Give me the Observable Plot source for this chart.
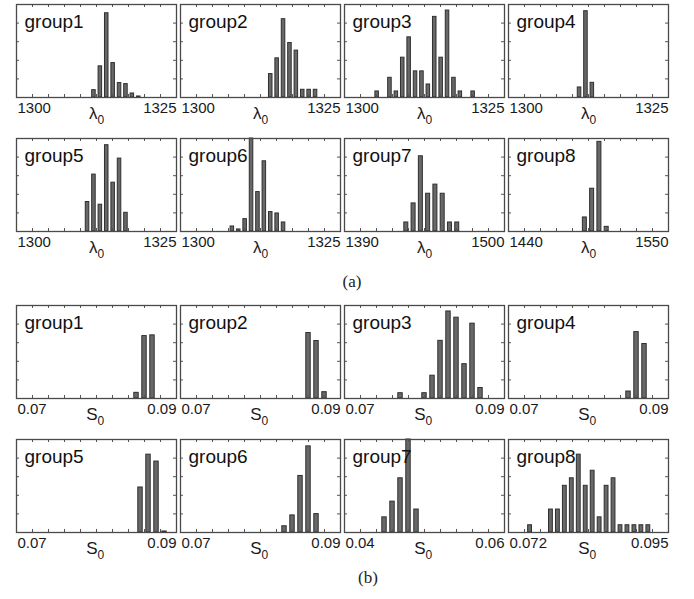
<!DOCTYPE html>
<html>
<head>
<meta charset="utf-8">
<script src="https://cdn.jsdelivr.net/npm/d3@7"></script>
<script src="https://cdn.jsdelivr.net/npm/@observablehq/plot@0.6"></script>
<style>
  body { margin: 0; background: #fff; }
  #fig { position: relative; width: 694px; height: 599px; overflow: hidden; background: #fff; }
  .panel { position: absolute; }
  .cap { position: absolute; font-family: "Liberation Serif", "Times New Roman", serif; font-size: 17px; line-height: 1; color: #222; transform: translateX(-50%); }
</style>
</head>
<body>
<div id="fig"></div>
<script>
// ---------- data ----------
const groups = ["group1", "group2", "group3", "group4", "group5", "group6", "group7", "group8"];

// (a) lambda_0 histograms
const lamDomains = [[1300, 1325], [1300, 1325], [1300, 1325], [1300, 1325], [1300, 1325], [1300, 1325], [1390, 1500], [1440, 1550]];
const lamTickLabels = [["1300", "1325"], ["1300", "1325"], ["1300", "1325"], ["1300", "1325"], ["1300", "1325"], ["1300", "1325"], ["1390", "1500"], ["1440", "1550"]];
const lamBinWidth = [1, 1, 1, 1, 1, 1, 5, 5];
const lamCenters = [
  [1312.1, 1313.1, 1314.1, 1315.1, 1316.1, 1317.1, 1318.1, 1319.1],
  [1314.1, 1315.1, 1316.1, 1317.1, 1318.1, 1319.1, 1320.1, 1321.1],
  [1305.1, 1307.1, 1308.1, 1309.1, 1310.1, 1311.1, 1312.1, 1313.1, 1314.1, 1315.1, 1316.1, 1317.1, 1318.1, 1320.1],
  [1311.1, 1312.1, 1313.1],
  [1311.1, 1312.1, 1313.1, 1314.1, 1315.1, 1316.1, 1317.1],
  [1308.1, 1309.1, 1310.1, 1311.1, 1312.1, 1313.1, 1314.1, 1315.1, 1316.1],
  [1432.5, 1437.5, 1442.5, 1447.5, 1452.5, 1457.5, 1462.5, 1467.5],
  [1492.5, 1497.5, 1502.5, 1507.5]
];
// relative frequency (% of panel height)
const lamFreq = [
  [7.9, 33.5, 90.6, 37.0, 15.5, 14.4, 4.3, 1.1],
  [25.2, 42.1, 84.2, 58.6, 50.4, 8.3, 8.3, 8.3],
  [6.5, 21.2, 6.5, 42.8, 64.7, 28.1, 28.1, 14.0, 86.7, 42.8, 93.5, 21.2, 6.5, 6.5],
  [10.8, 92.8, 15.8],
  [31.7, 61.2, 28.8, 92.8, 52.5, 78.4, 20.1],
  [5.4, 2.2, 13.3, 100, 42.4, 75.5, 20.9, 19.4, 9.7],
  [9.7, 30.2, 80.9, 40.6, 50.4, 40.6, 9.7, 9.7],
  [15.1, 46.0, 96.4, 5.0]
];

// (b) S_0 histograms
const sDomains = [[0.07, 0.09], [0.07, 0.09], [0.07, 0.09], [0.07, 0.09], [0.07, 0.09], [0.07, 0.09], [0.04, 0.06], [0.072, 0.095]];
const sTickLabels = [["0.07", "0.09"], ["0.07", "0.09"], ["0.07", "0.09"], ["0.07", "0.09"], ["0.07", "0.09"], ["0.07", "0.09"], ["0.04", "0.06"], ["0.072", "0.095"]];
const sBinWidth = [0.001, 0.001, 0.001, 0.001, 0.001, 0.001, 0.001, 0.001];
const sCenters = [
  [0.085, 0.086, 0.087],
  [0.086, 0.087, 0.088],
  [0.077, 0.080, 0.081, 0.082, 0.083, 0.084, 0.085, 0.086, 0.087],
  [0.085, 0.086, 0.087],
  [0.0855, 0.0865, 0.0875, 0.0885],
  [0.083, 0.084, 0.085, 0.086, 0.087],
  [0.045, 0.046, 0.047, 0.048, 0.049],
  [0.0751, 0.0781, 0.0791, 0.0801, 0.0811, 0.0821, 0.0831, 0.0841, 0.0851, 0.0861, 0.0871, 0.0881, 0.0891, 0.0901, 0.0911, 0.0921]
];
const sFreq = [
  [6.1, 67.1, 67.9],
  [70.4, 61.8, 6.8],
  [5.7, 5.7, 24.5, 62.0, 93.6, 86.9, 36.9, 80.5, 11.3],
  [7.5, 71.4, 58.6],
  [48.4, 83.7, 76.3, 1.1],
  [6.7, 18.4, 60.8, 92.6, 19.8],
  [16.3, 33.2, 58.3, 100, 24.7],
  [7.8, 24.7, 24.7, 50.2, 58.3, 83.7, 50.2, 66.4, 16.3, 50.2, 58.3, 7.8, 7.8, 7.8, 7.8, 7.8]
];
const yTicks = [20, 40, 60, 80];
const captions = ["(a)", "(b)"];

// ---------- layout ----------
const FW = 160, FH = 93;
const ML = 4, MR = 4, MT = 4, MB = 32;
const colLefts = [16, 180, 344, 508];
const rowTops = [4, 138, 305, 439];
const FONT = '"Liberation Sans", Arial, Helvetica, sans-serif';

function panel(name, domain, labels, binW, centers, freq, sym) {
  const bars = centers.map((c, i) => ({x1: c - binW * 0.275, x2: c + binW * 0.275, f: freq[i]}));
  const step = (domain[1] - domain[0]) / 10;
  const xt = d3.range(1, 10).map(i => domain[0] + i * step);
  const ends = [{v: domain[0], t: labels[0]}, {v: domain[1], t: labels[1]}];
  return Plot.plot({
    width: FW + ML + MR, height: FH + MT + MB,
    marginLeft: ML, marginRight: MR, marginTop: MT, marginBottom: MB,
    x: {domain, axis: null},
    y: {domain: [0, 100], axis: null},
    style: {fontFamily: FONT, background: "transparent", overflow: "visible"},
    marks: [
      Plot.rect(bars, {x1: "x1", x2: "x2", y1: 0, y2: "f", fill: "#686868", stroke: "#2f2f2f", strokeWidth: 1}),
      Plot.tickX(xt, {x: d => d, insetTop: FH - 3, stroke: "#555"}),
      Plot.tickX(xt, {x: d => d, insetBottom: FH - 3, stroke: "#555"}),
      Plot.tickY(yTicks, {y: d => d, insetRight: FW - 3, stroke: "#555"}),
      Plot.tickY(yTicks, {y: d => d, insetLeft: FW - 3, stroke: "#555"}),
      Plot.frame({stroke: "#4a4a4a", strokeWidth: 1.3}),
      Plot.text([ends[0]], {x: "v", text: "t", frameAnchor: "bottom", dy: 15, dx: 1, lineAnchor: "bottom", textAnchor: "start", fontSize: 15, fill: "#1a1a1a"}),
      Plot.text([ends[1]], {x: "v", text: "t", frameAnchor: "bottom", dy: 15, dx: 0, lineAnchor: "bottom", textAnchor: "end", fontSize: 15, fill: "#1a1a1a"}),
      Plot.text([sym], {text: d => d, frameAnchor: "bottom", dx: 1, dy: 21, lineAnchor: "bottom", textAnchor: "end", fontSize: 17, fill: "#1a1a1a"}),
      Plot.text(["0"], {text: d => d, frameAnchor: "bottom", dx: 1, dy: 26, lineAnchor: "bottom", textAnchor: "start", fontSize: 12, fill: "#1a1a1a"}),
      Plot.text([name], {text: d => d, frameAnchor: "top-left", dx: 8, dy: 23, lineAnchor: "bottom", textAnchor: "start", fontSize: 19, fill: "#111"})
    ]
  });
}

const fig = document.getElementById("fig");
function place(el, left, top) {
  el.classList.add("panel");
  el.style.left = (left - ML) + "px";
  el.style.top = (top - MT) + "px";
  fig.appendChild(el);
}

for (let i = 0; i < 8; ++i) {
  const col = i % 4, row = Math.floor(i / 4);
  place(panel(groups[i], lamDomains[i], lamTickLabels[i], lamBinWidth[i], lamCenters[i], lamFreq[i], "λ"), colLefts[col], rowTops[row]);
  place(panel(groups[i], sDomains[i], sTickLabels[i], sBinWidth[i], sCenters[i], sFreq[i], "S"), colLefts[col], rowTops[row + 2]);
}

const capPos = [[352, 273], [368, 569]];
captions.forEach((c, i) => {
  const d = document.createElement("div");
  d.className = "cap";
  d.textContent = c;
  d.style.left = capPos[i][0] + "px";
  d.style.top = capPos[i][1] + "px";
  fig.appendChild(d);
});
</script>
</body>
</html>
